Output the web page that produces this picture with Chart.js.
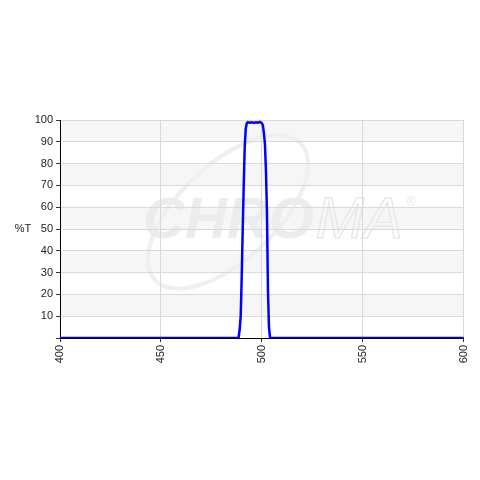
<!DOCTYPE html>
<html><head><meta charset="utf-8">
<script src="https://cdn.jsdelivr.net/npm/chart.js@4/dist/chart.umd.min.js"></script>
<style>html,body{margin:0;padding:0;background:#fff}#wrap{width:480px;height:480px}</style>
</head><body><div id="wrap"><canvas id="c" width="480" height="480"></canvas></div>
<script>
const wavelengths = [400,450,480,487,488,488.5,489,489.5,490,490.5,491,491.5,492,492.5,493,494,495,496,497,498,499,500,500.5,501,501.5,502,502.5,503,503.5,504,504.5,520,550,600];
const transmission = [0,0,0,0,0,0.5,4,10,28,50,70,88,96,98.5,99,98.8,99,98.7,99,98.8,99.1,98.5,97.5,94,89,77,58,22,5,0.5,0,0,0,0];
const xTicks = [400,450,500,550,600];
const yTicks = [10,20,30,40,50,60,70,80,90,100];
const yTitle = '%T';
const watermark = 'CHROMA';

const points = wavelengths.map((w,i)=>({x:w,y:transmission[i]}));

const bgPlugin = {
  id:'bg',
  beforeDraw(chart){
    const {ctx, chartArea:a, scales:{y}} = chart;
    ctx.save();
    ctx.fillStyle='#ffffff';
    ctx.fillRect(a.left,a.top,a.right-a.left,a.bottom-a.top);
    ctx.fillStyle='#f6f6f6';
    for(let v=10; v<100; v+=20){
      const t=y.getPixelForValue(v+10), b=y.getPixelForValue(v);
      ctx.fillRect(a.left,t,a.right-a.left,b-t);
    }
    // watermark
    ctx.beginPath();
    ctx.ellipse(228,212,100,48,-0.75,0,Math.PI*2);
    ctx.strokeStyle='#efefef'; ctx.lineWidth=4; ctx.stroke();
    ctx.font='italic bold 58px "Liberation Sans", Arial, sans-serif';
    ctx.textBaseline='alphabetic';
    const part1=watermark.slice(0,4), part2=watermark.slice(4);
    ctx.fillStyle='#ececec';
    ctx.fillText(part1,143,238);
    const w1=ctx.measureText(part1).width;
    ctx.font='italic 58px "Liberation Sans", Arial, sans-serif';
    ctx.strokeStyle='#e8e8e8'; ctx.lineWidth=1.5;
    ctx.strokeText(part2,143+w1+2,238);
    const w2=ctx.measureText(part2).width;
    ctx.font='12px "Liberation Sans", Arial, sans-serif';
    ctx.fillStyle='#e6e6e6';
    ctx.fillText('®',143+w1+w2+6,206);
    ctx.restore();
  },
  afterDraw(chart){
    const {ctx, scales:{y}} = chart;
    ctx.save();
    ctx.font='11px "Liberation Sans", Arial, sans-serif';
    ctx.fillStyle='#222';
    ctx.textAlign='center'; ctx.textBaseline='middle';
    ctx.fillText(yTitle,23,y.getPixelForValue(50));
    ctx.restore();
  }
};

new Chart(document.getElementById('c'),{
  type:'line',
  data:{datasets:[{data:points,borderColor:'#0000ff',borderWidth:2.5,pointRadius:0,tension:0,fill:false}]},
  options:{
    responsive:false,animation:false,
    layout:{padding:{left:0,right:13,top:120,bottom:112}},
    plugins:{legend:{display:false},tooltip:{enabled:false}},
    scales:{
      x:{type:'linear',min:400,max:600,
        afterBuildTicks(s){s.ticks=xTicks.map(v=>({value:v}));},
        afterFit(s){s.height=30;},
        grid:{color:'#d9d9d9',tickColor:'#333',tickLength:4,drawTicks:true},
        border:{color:'#000',width:1},
        ticks:{maxRotation:90,minRotation:90,color:'#222',font:{family:'"Liberation Sans", Arial, sans-serif',size:11},padding:3}
      },
      y:{type:'linear',min:0,max:100,
        afterBuildTicks(s){s.ticks=[{value:0}].concat(yTicks.map(v=>({value:v})));},
        afterFit(s){s.width=60;},
        grid:{color:(c)=>c.tick && c.tick.value===0?'rgba(0,0,0,0)':'#d9d9d9',tickColor:'#333',tickLength:4},
        border:{color:'#000',width:1},
        ticks:{color:'#222',font:{family:'"Liberation Sans", Arial, sans-serif',size:11},padding:3,callback:(v)=>v===0?'':v}
      }
    }
  },
  plugins:[bgPlugin]
});
</script></body></html>
